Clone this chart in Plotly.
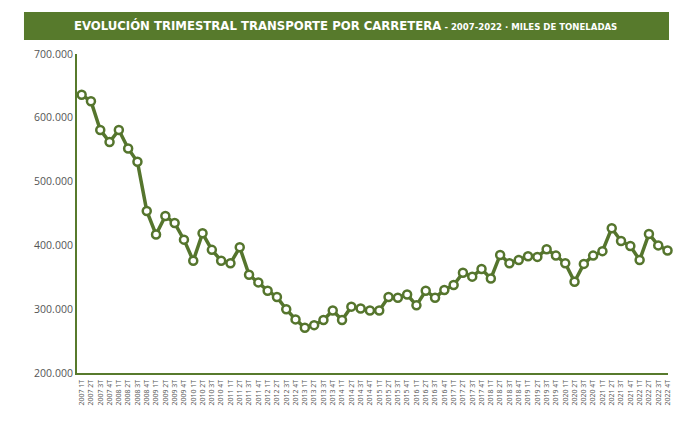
import plotly.graph_objects as go

# Trimestres 2007 1T .. 2022 4T
years = list(range(2007, 2023))
quarters = ["1T", "2T", "3T", "4T"]
periods = [f"{y} {q}" for y in years for q in quarters]

# miles de toneladas
tonnes = [
    636000, 626000, 581000, 562000,
    581000, 552000, 531000, 454000,
    417000, 446000, 435000, 409000,
    376000, 419000, 393000, 376000,
    372000, 397000, 354000, 342000,
    329000, 319000, 300000, 284000,
    271000, 275000, 283000, 298000,
    283000, 304000, 301000, 298000,
    298000, 319000, 318000, 323000,
    306000, 329000, 318000, 330000,
    338000, 357000, 351000, 363000,
    348000, 385000, 372000, 377000,
    383000, 382000, 394000, 384000,
    372000, 343000, 371000, 384000,
    391000, 427000, 407000, 399000,
    377000, 418000, 400000, 392000,
]

GREEN = "#577a2c"
LINE_GREEN = "#55752d"
TITLE_FONT = "DejaVu Sans Condensed, sans-serif"

trace = go.Scatter(
    x=periods,
    y=tonnes,
    mode="lines+markers",
    line=dict(color=LINE_GREEN, width=3.5),
    marker=dict(
        symbol="circle",
        size=8,
        color="white",
        line=dict(color=LINE_GREEN, width=2.5)
    ),
    cliponaxis=False,
    showlegend=False
)

fig = go.Figure(data=[trace])

# la página añade 8px de margen, se compensa aquí
fig.update_layout(
    width=690,
    height=417,
    margin=dict(l=69, r=30, t=46, b=52),
    paper_bgcolor="white",
    plot_bgcolor="white",
    separators=",.",
    font=dict(family="Open Sans, sans-serif", color="#555555"),
)

fig.update_xaxes(
    type="category",
    range=[-0.5, 63.05],
    showgrid=False,
    showline=True,
    linecolor=GREEN,
    linewidth=2,
    ticks="",
    tickangle=-90,
    tickfont=dict(size=7, color="#555555"),
    ticklabelstandoff=2,
)

fig.update_yaxes(
    range=[200000, 700000],
    tickvals=[200000, 300000, 400000, 500000, 600000, 700000],
    tickformat=",d",
    showgrid=False,
    zeroline=False,
    showline=True,
    linecolor=GREEN,
    linewidth=2,
    ticks="",
    tickfont=dict(size=10.5, color="#555555"),
)

# franja del título
fig.add_shape(
    type="rect",
    xref="paper", yref="paper",
    x0=-0.0897, x1=1.0017,
    y0=1.0439, y1=1.1318,
    fillcolor=GREEN,
    line=dict(width=0),
    layer="above"
)

fig.add_annotation(
    xref="paper", yref="paper",
    x=0.455, y=1.0878,
    xanchor="center", yanchor="middle",
    showarrow=False,
    text=("<b>EVOLUCIÓN TRIMESTRAL TRANSPORTE POR CARRETERA</b>"
          "<b><span style='font-size:9.5px'> - 2007-2022 · MILES DE TONELADAS</span></b>"),
    font=dict(family=TITLE_FONT, size=13, color="white")
)

fig.write_html("out.html")
